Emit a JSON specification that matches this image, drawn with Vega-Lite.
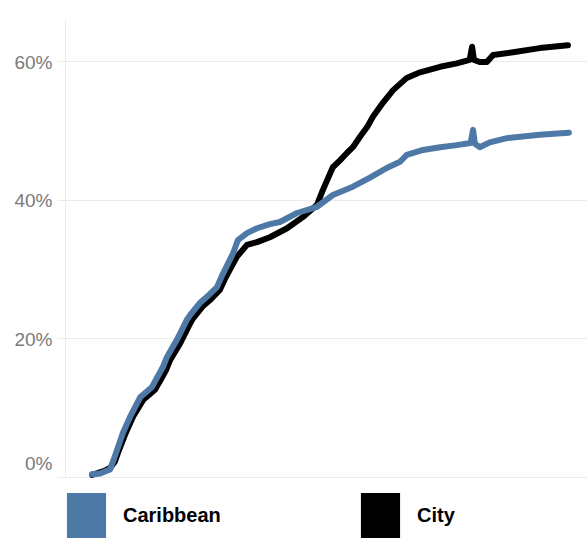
{
  "$schema": "https://vega.github.io/schema/vega-lite/v6.json",
  "autosize": "none",
  "width": 522,
  "height": 458,
  "padding": {"left": 65, "top": 19, "right": 0, "bottom": 61},
  "background": "white",
  "config": {"view": {"stroke": null}, "font": "Liberation Sans"},
  "data": {"values": [
    {"s":"Caribbean","t":0,"v":0.004},{"s":"Caribbean","t":1.7,"v":0.005},{"s":"Caribbean","t":3.8,"v":0.011},{"s":"Caribbean","t":4.8,"v":0.030},{"s":"Caribbean","t":6.5,"v":0.064},{"s":"Caribbean","t":8.0,"v":0.087},{"s":"Caribbean","t":10.1,"v":0.115},{"s":"Caribbean","t":12.6,"v":0.130},{"s":"Caribbean","t":13.6,"v":0.143},{"s":"Caribbean","t":14.9,"v":0.159},{"s":"Caribbean","t":15.7,"v":0.173},{"s":"Caribbean","t":17.8,"v":0.198},{"s":"Caribbean","t":19.9,"v":0.227},{"s":"Caribbean","t":20.6,"v":0.234},{"s":"Caribbean","t":22.6,"v":0.251},{"s":"Caribbean","t":24.1,"v":0.260},{"s":"Caribbean","t":26.2,"v":0.274},{"s":"Caribbean","t":27.5,"v":0.294},{"s":"Caribbean","t":29.6,"v":0.323},{"s":"Caribbean","t":30.6,"v":0.342},{"s":"Caribbean","t":32.5,"v":0.352},{"s":"Caribbean","t":34.6,"v":0.359},{"s":"Caribbean","t":37.3,"v":0.365},{"s":"Caribbean","t":39.4,"v":0.368},{"s":"Caribbean","t":43.0,"v":0.381},{"s":"Caribbean","t":47.2,"v":0.390},{"s":"Caribbean","t":50.5,"v":0.407},{"s":"Caribbean","t":54.7,"v":0.419},{"s":"Caribbean","t":58.3,"v":0.432},{"s":"Caribbean","t":61.8,"v":0.446},{"s":"Caribbean","t":64.6,"v":0.455},{"s":"Caribbean","t":66.0,"v":0.465},{"s":"Caribbean","t":69.4,"v":0.472},{"s":"Caribbean","t":73.0,"v":0.476},{"s":"Caribbean","t":76.5,"v":0.479},{"s":"Caribbean","t":79.4,"v":0.482},{"s":"Caribbean","t":79.9,"v":0.501},{"s":"Caribbean","t":80.3,"v":0.481},{"s":"Caribbean","t":81.3,"v":0.476},{"s":"Caribbean","t":83.4,"v":0.483},{"s":"Caribbean","t":87.0,"v":0.489},{"s":"Caribbean","t":93.9,"v":0.494},{"s":"Caribbean","t":100,"v":0.497},
    {"s":"City","t":0,"v":0.003},{"s":"City","t":2.3,"v":0.008},{"s":"City","t":3.8,"v":0.013},{"s":"City","t":4.8,"v":0.022},{"s":"City","t":5.5,"v":0.036},{"s":"City","t":7.1,"v":0.064},{"s":"City","t":8.6,"v":0.087},{"s":"City","t":10.7,"v":0.111},{"s":"City","t":13.2,"v":0.126},{"s":"City","t":14.3,"v":0.139},{"s":"City","t":15.5,"v":0.154},{"s":"City","t":16.4,"v":0.169},{"s":"City","t":18.5,"v":0.193},{"s":"City","t":20.6,"v":0.222},{"s":"City","t":21.2,"v":0.229},{"s":"City","t":23.3,"v":0.247},{"s":"City","t":24.7,"v":0.255},{"s":"City","t":26.8,"v":0.270},{"s":"City","t":28.1,"v":0.289},{"s":"City","t":30.4,"v":0.318},{"s":"City","t":32.5,"v":0.335},{"s":"City","t":34.6,"v":0.339},{"s":"City","t":37.3,"v":0.346},{"s":"City","t":40.9,"v":0.359},{"s":"City","t":44.2,"v":0.375},{"s":"City","t":47.2,"v":0.393},{"s":"City","t":48.4,"v":0.414},{"s":"City","t":50.5,"v":0.447},{"s":"City","t":52.0,"v":0.457},{"s":"City","t":53.5,"v":0.468},{"s":"City","t":54.7,"v":0.476},{"s":"City","t":56.2,"v":0.491},{"s":"City","t":57.7,"v":0.505},{"s":"City","t":58.9,"v":0.520},{"s":"City","t":61.0,"v":0.540},{"s":"City","t":63.1,"v":0.558},{"s":"City","t":66.0,"v":0.576},{"s":"City","t":68.8,"v":0.584},{"s":"City","t":73.0,"v":0.592},{"s":"City","t":76.5,"v":0.597},{"s":"City","t":79.2,"v":0.602},{"s":"City","t":79.7,"v":0.621},{"s":"City","t":80.1,"v":0.602},{"s":"City","t":81.3,"v":0.599},{"s":"City","t":82.8,"v":0.599},{"s":"City","t":84.1,"v":0.609},{"s":"City","t":88.3,"v":0.613},{"s":"City","t":93.9,"v":0.619},{"s":"City","t":99.8,"v":0.623}
  ]},
  "encoding": {
    "x": {"field": "t", "type": "quantitative", "scale": {"domain": [-5.66, 103.8], "nice": false, "zero": false}, "axis": null},
    "y": {"field": "v", "type": "quantitative", "scale": {"domain": [0, 0.661], "nice": false},
      "axis": {"values": [0, 0.2, 0.4, 0.6], "format": ".0%", "title": null,
        "labelFont": "Liberation Sans", "labelFontSize": 19, "labelColor": "#7a7a7a",
        "labelPadding": 5, "tickSize": 8, "tickColor": "#ebebeb", "gridColor": "#ebebeb", "grid": true,
        "domainColor": "#ebebeb", "labelBaseline": "middle",
        "labelOffset": {"condition": {"test": "datum.value === 0", "value": -14}, "value": 1}}},
    "color": {"field": "s", "type": "nominal",
      "scale": {"domain": ["Caribbean", "City"], "range": ["#4e79a7", "#000000"]},
      "legend": {"title": null, "orient": "none", "legendX": -1, "legendY": 474, "direction": "horizontal",
        "padding": 0, "columns": 2, "columnPadding": 137,
        "symbolType": "M-0.87,-1H0.87V1H-0.87Z", "symbolSize": 2025, "symbolStrokeWidth": 0,
        "labelFont": "Liberation Sans", "labelFontSize": 20, "labelFontWeight": "bold", "labelColor": "#000000",
        "labelOffset": 14,
        "encode": {"symbols": {"update": {"fill": {"scale": "color", "field": "value"}, "fillOpacity": {"value": 1}, "strokeWidth": {"value": 0}}}}}}
  },
  "layer": [
    {"transform": [{"filter": "datum.s === 'City'"}], "mark": {"type": "line", "strokeWidth": 6, "strokeCap": "round", "strokeJoin": "round"}},
    {"transform": [{"filter": "datum.s === 'Caribbean'"}], "mark": {"type": "line", "strokeWidth": 6, "strokeCap": "round", "strokeJoin": "round"}}
  ]
}
